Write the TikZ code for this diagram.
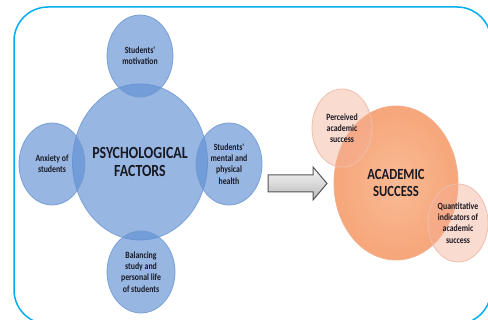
\documentclass[tikz,border=0pt]{standalone}
\usepackage{fontspec}
\newfontfamily\cf[FakeStretch=0.82]{Carlito}
\usetikzlibrary{shapes.geometric}
\definecolor{frame}{RGB}{0,174,239}
\definecolor{bluebase}{RGB}{95,143,211}
\definecolor{blueedge}{RGB}{115,155,212}
\definecolor{orangein}{RGB}{250,186,148}
\definecolor{orangeout}{RGB}{246,166,122}
\definecolor{orangeedge}{RGB}{244,175,140}
\definecolor{pinkbase}{RGB}{245,175,150}
\definecolor{pinkedge}{RGB}{240,190,172}
\definecolor{txt}{RGB}{25,25,35}
\tikzset{
  bubble/.style={ellipse, inner sep=0pt, align=center, text=txt},
  bluebub/.style={bubble, fill=bluebase, fill opacity=0.65, text opacity=1,
     draw=blueedge, line width=0.8pt, draw opacity=0.9},
  orangebub/.style={bubble, inner color=orangein, outer color=orangeout, draw=orangeedge, line width=0.8pt},
  pinkbub/.style={bubble, fill=pinkbase, fill opacity=0.45, text opacity=1,
     draw=pinkedge, line width=0.8pt},
  smalltext/.style={font=\cf\bfseries\fontsize{9.5}{11.2}\selectfont},
  bigtext/.style={font=\cf\bfseries\fontsize{17}{18}\selectfont},
  arrowshape/.style={draw={rgb,255:red,85;green,85;blue,85}, line width=1pt,
     top color=white!95!gray, bottom color=gray!55}
}
\begin{document}
\begin{tikzpicture}[x=1pt,y=-1pt]
\useasboundingbox (0,0) rectangle (488,320);
\clip (0,0) rectangle (488,320);
\draw[frame, line width=1.5pt, rounded corners=34pt] (14,7) rectangle (491,324);

% blue group
\node[bluebub, bigtext, minimum width=128pt, minimum height=156pt] (psy) at (140,162) {PSYCHOLOGICAL\\FACTORS};
\node[bluebub, smalltext, minimum width=66pt, minimum height=82pt] (mot) at (140,56) {Students'\\motivation};
\node[bluebub, smalltext, minimum width=66pt, minimum height=82pt] (anx) at (52,164) {Anxiety of\\students};
\node[bluebub, smalltext, minimum width=66pt, minimum height=82pt] (men) at (229,164) {Students'\\mental and\\physical\\health};
\node[bluebub, smalltext, minimum width=68pt, minimum height=82pt] (bal) at (141,272) {Balancing\\study and\\personal life\\of students};

% arrow
\coordinate (a1) at (268,175);
\coordinate (a2) at (313,175);
\coordinate (a3) at (313,167);
\coordinate (a4) at (327,183.5);
\coordinate (a5) at (313,200);
\coordinate (a6) at (313,192);
\coordinate (a7) at (268,192);
\draw[arrowshape] (a1) -- (a2) -- (a3) -- (a4) -- (a5) -- (a6) -- (a7) -- cycle;

% orange group
\node[orangebub, bigtext, font=\cf\bfseries\fontsize{15.5}{17}\selectfont, minimum width=124pt, minimum height=154pt] (acs) at (396,183) {ACADEMIC\\SUCCESS};
\node[pinkbub, smalltext, minimum width=60pt, minimum height=78pt] (per) at (342,128) {Perceived\\academic\\success};
\node[pinkbub, smalltext, minimum width=60pt, minimum height=78pt] (qua) at (458,223) {Quantitative\\indicators of\\academic\\success};
\end{tikzpicture}
\end{document}
